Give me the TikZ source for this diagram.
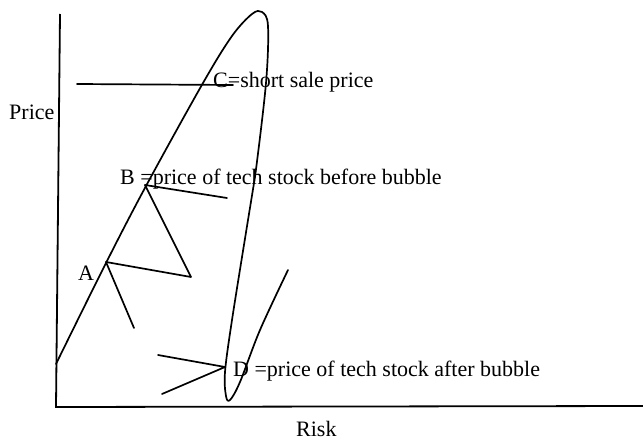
\documentclass[tikz,border=0pt]{standalone}
\usepackage{fontspec}
\setmainfont{Liberation Serif}
\usetikzlibrary{positioning}
\tikzset{
  ax/.style={line width=1.8pt,black},
  sk/.style={line width=1.7pt,black,line cap=round,line join=round},
  lbl/.style={font=\fontsize{22}{25}\selectfont,inner sep=0pt,anchor=base west},
}

\begin{document}
\begin{tikzpicture}[x=1pt,y=-1pt]
\useasboundingbox (0,0) rectangle (643,441);
% axes
\coordinate (ytop) at (60,14);
\coordinate (O) at (56,407);
\coordinate (xend) at (643,406);
\draw[ax] (ytop) -- (O) -- (xend);
\node[lbl] (price) at (9,120) {Price};
\node[lbl] (risk) at (296,436) {Risk};
% bubble curve
\draw[sk] plot[smooth,tension=0.55] coordinates {(56,364) (106,263) (146,186) (203,83) (232,36) (252,14) (262,12) (268,26) (266,83) (255,177) (248,220) (232,320) (225,372) (226,396) (230,400) (240,382) (260,330) (288,270)};
% points on it
\coordinate (A) at (106,262);
\coordinate (B) at (145,185);
\coordinate (c0) at (77,84);
\coordinate (c1) at (233,85);
\coordinate (b1) at (227,198);
\coordinate (b2) at (191,277);
\coordinate (a1) at (134,328);
\coordinate (D) at (225,367);
\coordinate (d1) at (158,355);
\coordinate (d2) at (162,394);
\draw[sk] (c0) -- (c1);
\draw[sk] (B) -- (b1);
\draw[sk] (B) -- (b2) -- (A);
\draw[sk] (A) -- (a1);
\draw[sk] (d1) -- (D) -- (d2);
% labels
\node[lbl] (clbl) at (213,88) {C=short sale price};
\node[lbl] (blbl) at (120,185) {B =price of tech stock before bubble};
\node[lbl] (albl) at (78,280) {A};
\node[lbl] (dlbl) at (233,376) {D =price of tech stock after bubble};
\end{tikzpicture}
\end{document}
